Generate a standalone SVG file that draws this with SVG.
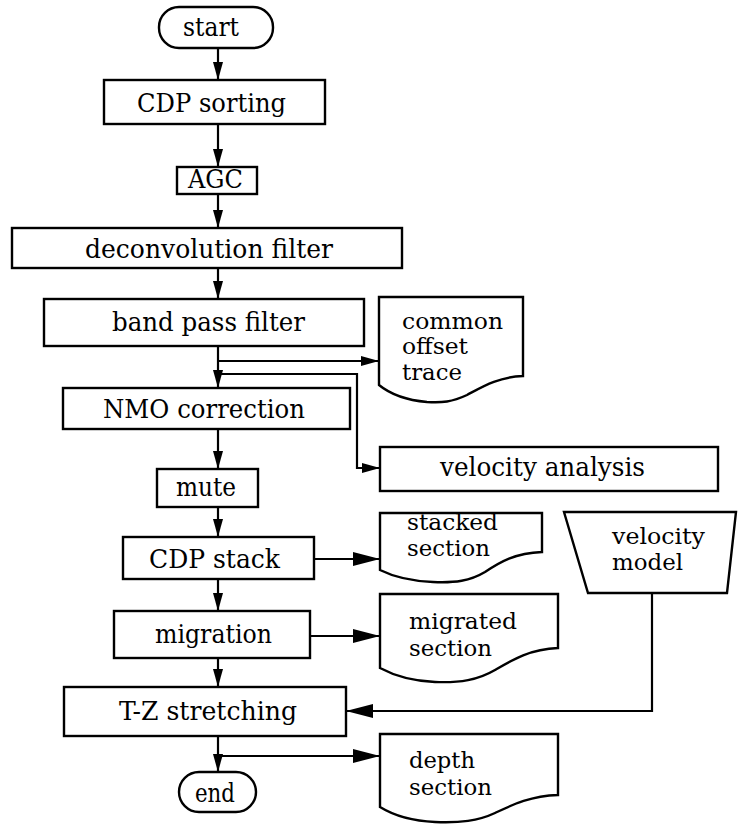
<svg xmlns="http://www.w3.org/2000/svg" width="738" height="824" viewBox="0 0 738 824">
<style>
.b{fill:#fff;stroke:#000;stroke-width:2.4}
.t{font-family:"DejaVu Serif","Liberation Serif",serif;font-size:26px;fill:#000}
.d{font-family:"DejaVu Serif","Liberation Serif",serif;font-size:22px;fill:#000}
.c{fill:none;stroke:#000;stroke-width:2.2}
</style>
<defs>
<marker id="as" markerUnits="userSpaceOnUse" markerWidth="18" markerHeight="10" refX="18" refY="5" orient="auto"><path d="M0,0 L18,5 L0,10 Z" fill="#000"/></marker>
<marker id="ab" markerUnits="userSpaceOnUse" markerWidth="27" markerHeight="14" refX="27" refY="7" orient="auto"><path d="M0,0 L27,7 L0,14 Z" fill="#000"/></marker>
</defs>
<rect width="738" height="824" fill="#fff"/>
<g id="connectors">
<path class="c" d="M218,48 V80" marker-end="url(#as)"/>
<path class="c" d="M218,124 V167" marker-end="url(#as)"/>
<path class="c" d="M218,194 V228" marker-end="url(#as)"/>
<path class="c" d="M218,268 V299" marker-end="url(#as)"/>
<path class="c" d="M218,346 V388" marker-end="url(#as)"/>
<path class="c" d="M218,361 H379" marker-end="url(#as)"/>
<path class="c" d="M218,374 H357 V468 H380" marker-end="url(#as)"/>
<path class="c" d="M218,429 V469" marker-end="url(#as)"/>
<path class="c" d="M218,507 V537" marker-end="url(#as)"/>
<path class="c" d="M314,559 H380" marker-end="url(#ab)"/>
<path class="c" d="M218,579 V611" marker-end="url(#as)"/>
<path class="c" d="M310,636 H380" marker-end="url(#ab)"/>
<path class="c" d="M218,658 V687" marker-end="url(#as)"/>
<path class="c" d="M652,593 V711 H346" marker-end="url(#ab)"/>
<path class="c" d="M218,736 V772" marker-end="url(#as)"/>
<path class="c" d="M218,756 H380" marker-end="url(#ab)"/>
</g>
<g id="start"><rect class="b" x="159" y="7" width="114" height="41" rx="20"/><text class="t" x="183" y="36" textLength="56" lengthAdjust="spacingAndGlyphs">start</text></g>
<g id="cdp-sorting"><rect class="b" x="104" y="80" width="221" height="44"/><text class="t" x="137" y="112" textLength="149" lengthAdjust="spacingAndGlyphs">CDP sorting</text></g>
<g id="agc"><rect class="b" x="177" y="167" width="80" height="27"/><text class="t" x="188" y="188" textLength="55" lengthAdjust="spacingAndGlyphs">AGC</text></g>
<g id="deconvolution"><rect class="b" x="12" y="228" width="390" height="40"/><text class="t" x="85" y="258" textLength="248" lengthAdjust="spacingAndGlyphs">deconvolution filter</text></g>
<g id="band-pass"><rect class="b" x="44" y="299" width="320" height="47"/><text class="t" x="112" y="331" textLength="193" lengthAdjust="spacingAndGlyphs">band pass filter</text></g>
<g id="common-offset"><path class="b" d="M379,297 H523 V376 C 498,377 482,387 467,395 C 452,402 442,403 427,402 C 405,400 390,394 379,385 Z"/><text class="d" x="402" y="329" textLength="101" lengthAdjust="spacingAndGlyphs">common</text><text class="d" x="402" y="354" textLength="66" lengthAdjust="spacingAndGlyphs">offset</text><text class="d" x="402" y="380" textLength="60" lengthAdjust="spacingAndGlyphs">trace</text></g>
<g id="nmo"><rect class="b" x="63" y="388" width="287" height="41"/><text class="t" x="103" y="418" textLength="202" lengthAdjust="spacingAndGlyphs">NMO correction</text></g>
<g id="velocity-analysis"><rect class="b" x="380" y="447" width="338" height="44"/><text class="t" x="440" y="476" textLength="205" lengthAdjust="spacingAndGlyphs">velocity analysis</text></g>
<g id="mute"><rect class="b" x="157" y="469" width="101" height="38"/><text class="t" x="176" y="496" textLength="60" lengthAdjust="spacingAndGlyphs">mute</text></g>
<g id="cdp-stack"><rect class="b" x="123" y="537" width="191" height="42"/><text class="t" x="149" y="568" textLength="131" lengthAdjust="spacingAndGlyphs">CDP stack</text></g>
<g id="stacked-section"><path class="b" d="M380,513 H542 V552 C 515,553 500,562 485,572 C 470,581 455,583 433,582 C 410,581 392,576 380,570 Z"/><text class="d" x="407" y="530" textLength="91" lengthAdjust="spacingAndGlyphs">stacked</text><text class="d" x="407" y="556" textLength="83" lengthAdjust="spacingAndGlyphs">section</text></g>
<g id="velocity-model"><path class="b" d="M564,512 H736 L727,593 H588 Z"/><text class="d" x="612" y="544" textLength="93" lengthAdjust="spacingAndGlyphs">velocity</text><text class="d" x="612" y="570" textLength="71" lengthAdjust="spacingAndGlyphs">model</text></g>
<g id="migration"><rect class="b" x="114" y="611" width="196" height="47"/><text class="t" x="155" y="643" textLength="117" lengthAdjust="spacingAndGlyphs">migration</text></g>
<g id="migrated-section"><path class="b" d="M380,594 H558 V648 C 530,649 512,660 495,670 C 478,680 460,683 435,682 C 412,681 393,675 380,668 Z"/><text class="d" x="409" y="629" textLength="108" lengthAdjust="spacingAndGlyphs">migrated</text><text class="d" x="409" y="656" textLength="83" lengthAdjust="spacingAndGlyphs">section</text></g>
<g id="tz-stretching"><rect class="b" x="64" y="687" width="282" height="49"/><text class="t" x="119" y="720" textLength="178" lengthAdjust="spacingAndGlyphs">T-Z stretching</text></g>
<g id="end"><rect class="b" x="179" y="772" width="77" height="40" rx="20"/><text class="t" x="195" y="802" textLength="40" lengthAdjust="spacingAndGlyphs">end</text></g>
<g id="depth-section"><path class="b" d="M380,734 H558 V795 C 530,796 512,805 495,813 C 478,821 460,823 435,822 C 412,821 393,815 380,807 Z"/><text class="d" x="409" y="768" textLength="66" lengthAdjust="spacingAndGlyphs">depth</text><text class="d" x="409" y="795" textLength="83" lengthAdjust="spacingAndGlyphs">section</text></g>
</svg>
